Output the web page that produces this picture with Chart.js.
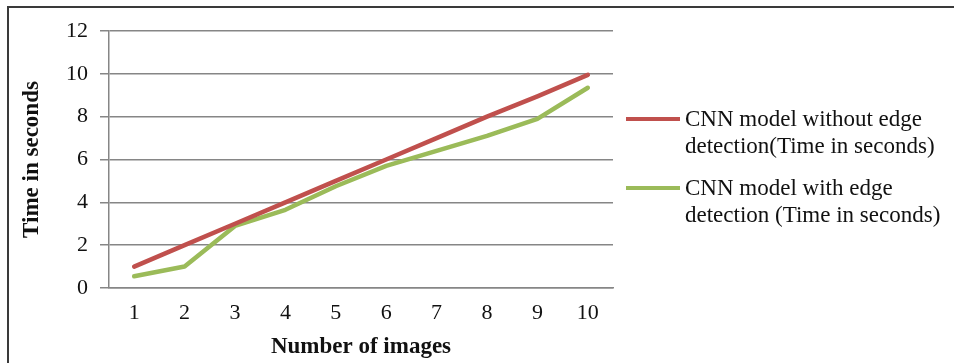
<!DOCTYPE html>
<html>
<head>
<meta charset="utf-8">
<script src="https://cdn.jsdelivr.net/npm/chart.js@4/dist/chart.umd.min.js"></script>
<style>
  html, body { margin: 0; padding: 0; background: #fff; }
  #wrap { width: 954px; height: 363px; }
</style>
</head>
<body>
<div id="wrap"><canvas id="c" width="954" height="363"></canvas></div>
<script>
// Image counts on the x axis
const categories = ['1', '2', '3', '4', '5', '6', '7', '8', '9', '10'];
// Processing time (seconds) for each model
const withoutEdge = [1.0, 2.0, 3.0, 4.0, 5.0, 6.0, 7.0, 8.0, 8.95, 9.95];
const withEdge = [0.55, 1.0, 2.9, 3.65, 4.75, 5.7, 6.4, 7.1, 7.9, 9.35];
// Y-axis range and step
const yMin = 0, yMax = 12, yStep = 2;
// Legend text, wrapped onto two lines each
const legendLines = [
  ['CNN model without edge', 'detection(Time in seconds)'],
  ['CNN model with edge', 'detection (Time in seconds)']
];
const axisTitles = { x: 'Number of images', y: 'Time in seconds' };

const RED = '#c0504d';
const GREEN = '#9bbb59';
const GRID = '#868686';
const SERIF = '"Liberation Serif", "Times New Roman", serif';

// White background and the outer frame
const framePlugin = {
  id: 'frame',
  beforeDraw(chart) {
    const ctx = chart.ctx;
    ctx.save();
    ctx.fillStyle = '#fff';
    ctx.fillRect(0, 0, chart.width, chart.height);
    ctx.strokeStyle = '#3a3a3a';
    ctx.lineWidth = 2;
    ctx.strokeRect(8, 7, chart.width + 20, chart.height + 20);
    ctx.restore();
  }
};

// Legend on the right with wrapped labels
const wrappedLegend = {
  id: 'wrappedLegend',
  afterDraw(chart) {
    const ctx = chart.ctx;
    const area = chart.chartArea;
    const x0 = area.right + 13;
    const rows = [119, 188];
    ctx.save();
    ctx.font = '23px ' + SERIF;
    ctx.textBaseline = 'middle';
    ctx.fillStyle = '#111';
    chart.data.datasets.forEach((ds, i) => {
      const y = rows[i];
      ctx.strokeStyle = ds.borderColor;
      ctx.lineWidth = 4;
      ctx.beginPath();
      ctx.moveTo(x0, y);
      ctx.lineTo(x0 + 54, y);
      ctx.stroke();
      legendLines[i].forEach((t, j) => {
        ctx.fillText(t, x0 + 59, y + 1 + j * 27);
      });
    });
    ctx.restore();
  }
};

new Chart(document.getElementById('c'), {
  type: 'line',
  data: {
    labels: categories,
    datasets: [
      { label: legendLines[0].join(' '), data: withoutEdge, borderColor: RED, backgroundColor: RED },
      { label: legendLines[1].join(' '), data: withEdge, borderColor: GREEN, backgroundColor: GREEN }
    ]
  },
  options: {
    responsive: false,
    animation: false,
    devicePixelRatio: 1,
    layout: { padding: { left: 0, top: 31, right: 341, bottom: 0 } },
    elements: {
      line: { borderWidth: 4.5, tension: 0, borderCapStyle: 'round', borderJoinStyle: 'round' },
      point: { radius: 0, hoverRadius: 0 }
    },
    plugins: {
      legend: { display: false },
      tooltip: { enabled: false }
    },
    scales: {
      x: {
        offset: true,
        grid: { display: false, drawTicks: false },
        border: { display: true, color: GRID, width: 1.5 },
        ticks: { color: '#111', font: { family: SERIF, size: 22 }, padding: 12, maxRotation: 0 },
        title: { display: true, text: axisTitles.x, color: '#111', font: { family: SERIF, size: 23, weight: 'bold' }, padding: { top: 0, bottom: 2 } },
        afterFit(s) { s.height = 75; }
      },
      y: {
        min: yMin, max: yMax,
        grid: { color: GRID, lineWidth: 1.5, tickLength: 9, tickColor: GRID },
        border: { display: true, color: GRID, width: 1.5 },
        ticks: { stepSize: yStep, color: '#111', font: { family: SERIF, size: 22 }, padding: 12 },
        title: { display: true, text: axisTitles.y, color: '#111', font: { family: SERIF, size: 23, weight: 'bold' }, padding: { top: 18, bottom: 0 } },
        afterFit(s) { s.width = 109; }
      }
    }
  },
  plugins: [framePlugin, wrappedLegend]
});
</script>
</body>
</html>
